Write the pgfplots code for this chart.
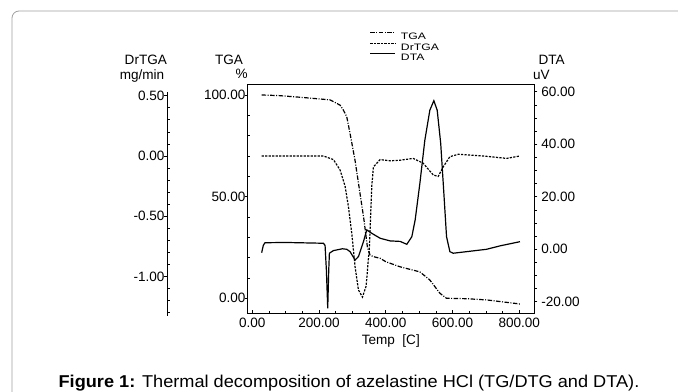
\documentclass[border=0pt]{standalone}
\usepackage{fontspec}
\setmainfont{Liberation Sans}
\usepackage{pgfplots}
\pgfplotsset{compat=1.18}
\pgfplotsset{
  tgastyle/.style={black, line width=1.2bp, dash pattern=on 4.5bp off 1.5bp on 1bp off 1.5bp},
  drstyle/.style={black, line width=1.2bp, dash pattern=on 2.2bp off 1.3bp},
  dtastyle/.style={black, line width=1.2bp},
  common/.style={
    scale only axis, width=286.6bp,
    xmin=-13.8, xmax=845,
    axis line style={line width=0.8bp, black},
    tick style={line width=0.7bp, black},
    major tick length=3bp, minor tick length=2.5bp,
    tick label style={font=\fontsize{13.6}{16}\selectfont, inner sep=0pt},
    /pgf/number format/fixed, /pgf/number format/fixed zerofill,
    /pgf/number format/precision=2, /pgf/number format/assume math mode=true,
  },
}
\newcommand{\lf}{\fontsize{13.6}{16}\selectfont}
\begin{document}
\begin{tikzpicture}
\useasboundingbox (0,0) rectangle (678bp,392bp);
\draw[gray!75, line width=0.8bp, rounded corners=7bp] (12bp,-2bp) -- (12bp,381bp) -- (682bp,381bp);

% main axis: TGA
\begin{axis}[common,
  at={(247.7bp,78.5bp)}, anchor=south west, height=229.2bp,
  ymin=-7.48, ymax=105.26,
  tick pos=left, tick align=inside,
  xtick={0,200,400,600,800},
  minor xtick={50,100,150,250,300,350,450,500,550,650,700,750},
  ytick={0,50,100},
  minor ytick={10,20,30,40,60,70,80,90},
  every major y tick/.append style={xshift=-3bp},
  xticklabel style={yshift=-4.5bp},
  yticklabel style={xshift=-2bp},
  legend style={at={(0.4267,1.2282)}, anchor=north west, draw=none, fill=none,
    inner sep=0pt, outer sep=0pt, row sep=3.2bp, column sep=5bp,
    nodes={inner sep=0pt, text height=7bp, text depth=0pt, font=\fontsize{9.4}{10}\selectfont}},
  legend cell align=left,
  legend image code/.code={\draw[#1, line width=1bp] (0bp,3.5bp) -- (25bp,3.5bp);},
]
\addlegendimage{tgastyle}\addlegendentry{\scalebox{1.3}[1]{TGA}}
\addlegendimage{drstyle}\addlegendentry{\scalebox{1.3}[1]{DrTGA}}
\addlegendimage{dtastyle}\addlegendentry{\scalebox{1.3}[1]{DTA}}
\addplot[tgastyle, forget plot] coordinates {
(28,100) (80,99.7) (150,98.8) (233,97.6) (263,95) (272.7,92.6) (283,89.3) (292.7,81.2)
(307.7,68) (322.7,51.6) (334.7,38.5) (344.7,25.4) (352.7,21.3) (362.6,20.5) (382.6,19.7)
(400,18) (442.5,15.5) (502,13) (532,9) (562,2.5) (582,0) (642,-0.2) (702,-0.8) (802,-2.8)
};
\end{axis}

% DTA axis (right)
\begin{axis}[common,
  at={(247.7bp,78.5bp)}, anchor=south west, height=229.2bp,
  ymin=-24.46, ymax=62.86,
  axis x line=none, axis y line*=right,
  ytick={-20,0,20,40,60},
  minor ytick={-15,-10,-5,5,10,15,25,30,35,45,50,55},
  tick align=inside,
  every major y tick/.append style={xshift=3bp},
  every minor y tick/.append style={xshift=2.5bp},
  yticklabel style={xshift=6.8bp, anchor=west},
]
\addplot[dtastyle] coordinates {
(28,-1.3) (33,1.5) (38,2.5) (100,2.6) (213,2.3) (218,1.5) (222,-8) (226,-22.5) (229,-8)
(231,-1.5) (243,-0.5) (270,0.2) (283,0) (293,-0.9) (308,-4.1) (318,-2.8) (333,2.9)
(343,7.4) (358,6.1) (383,4.2) (413,3.2) (443,3.0) (463,1.9) (478,4.8) (488,11.2)
(502,25) (517,41.6) (532,53) (544,56.6) (554,53) (564.5,40.4) (574,21.3) (582,4.8)
(592,-0.9) (602,-1.5) (642,-0.9) (702,0) (742,1.3) (802,2.9)
};
\end{axis}

% DrTGA axis (far left)
\begin{axis}[common,
  at={(247.7bp,76bp)}, anchor=south west, height=224.3bp,
  ymin=-1.3267, ymax=0.533,
  axis x line=none, axis y line*=left, axis y line shift=80.5bp,
  ytick={-1,-0.5,0,0.5},
  minor ytick={-1.3,-1.2,-1.1,-0.9,-0.8,-0.7,-0.6,-0.4,-0.3,-0.2,-0.1,0.1,0.2,0.3,0.4},
  tick align=inside,
  every major y tick/.append style={xshift=-3bp},
  yticklabel style={xshift=-2.5bp},
]
\addplot[drstyle] coordinates {
(28,0) (100,0) (213,0) (243,-0.03) (263,-0.116) (278,-0.25) (288,-0.42) (298,-0.64)
(308,-0.92) (318,-1.11) (330,-1.17) (341,-1.08) (351,-0.75) (358,-0.25) (363,-0.09)
(383,-0.03) (413,-0.04) (443,-0.035) (482,-0.02) (512,-0.06) (542,-0.157) (557,-0.17)
(572,-0.09) (592,-0.006) (617,0.014) (692,0) (762,-0.02) (802,0)
};
\end{axis}

\node[anchor=base, inner sep=0pt] at (145.8bp,327bp) {\lf DrTGA};
\node[anchor=base, inner sep=0pt] at (142bp,312.7bp) {\lf mg/min};
\node[anchor=base, inner sep=0pt] at (229bp,327bp) {\lf TGA};
\node[anchor=base, inner sep=0pt] at (241.7bp,313bp) {\lf \%};
\node[anchor=base, inner sep=0pt] at (551.7bp,327bp) {\lf DTA};
\node[anchor=base, inner sep=0pt] at (541.3bp,312.7bp) {\lf uV};
\node[anchor=base, inner sep=0pt] at (390.8bp,47.5bp) {\lf Temp\ \ [C]};
\node[anchor=base, inner sep=0pt] at (349bp,5bp) {\scalebox{1.06}[1]{\fontsize{17.2}{20}\selectfont\textbf{Figure 1:} Thermal decomposition of azelastine HCl (TG/DTG and DTA).}};
\end{tikzpicture}
\end{document}
